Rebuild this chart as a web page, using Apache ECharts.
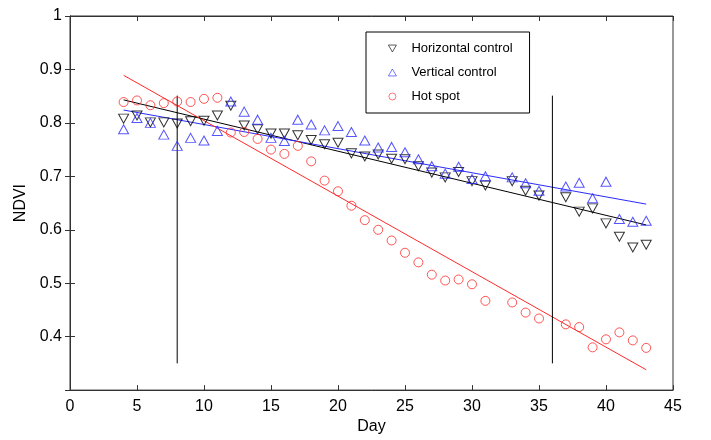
<!DOCTYPE html>
<html>
<head>
<meta charset="utf-8">
<script src="https://cdn.jsdelivr.net/npm/echarts@6/dist/echarts.min.js"></script>
<style>
    html, body { margin: 0; padding: 0; background: #fff; }
    #chart { width: 711px; height: 440px; }
</style>
</head>
<body>
<div id="chart"></div>
<script>
    // 数据
    var days = [4, 5, 6, 7, 8, 9, 10, 11, 12, 13, 14, 15, 16, 17, 18, 19, 20, 21, 22, 23, 24, 25,
        26, 27, 28, 29, 30, 31, 33, 34, 35, 37, 38, 39, 40, 41, 42, 43];
    var horizontal = [0.808, 0.814, 0.801, 0.801, 0.799, 0.803, 0.804, 0.814, 0.832, 0.795, 0.788, 0.780,
        0.780, 0.777, 0.768, 0.760, 0.763, 0.743, 0.737, 0.741, 0.733, 0.732,
        0.719, 0.707, 0.698, 0.708, 0.691, 0.683, 0.691, 0.673, 0.664,
        0.661, 0.634, 0.640, 0.612, 0.587, 0.567, 0.572];
    var vertical = [0.788, 0.809, 0.800, 0.778, 0.757, 0.772, 0.767, 0.785, 0.840, 0.821, 0.806, 0.772,
        0.766, 0.806, 0.797, 0.786, 0.794, 0.783, 0.767, 0.754, 0.755, 0.745,
        0.732, 0.719, 0.705, 0.718, 0.695, 0.700, 0.698, 0.687, 0.673,
        0.681, 0.688, 0.659, 0.690, 0.620, 0.615, 0.617];
    var hotDays = [4, 5, 6, 7, 8, 9, 10, 11, 12, 13, 14, 15, 16, 17, 18, 19, 20, 21, 22, 23, 24, 25,
        26, 27, 28, 29, 30, 31, 33, 34, 35, 37, 38, 39, 40, 41, 42, 43];
    var hotSpot = [0.839, 0.842, 0.833, 0.837, 0.840, 0.839, 0.845, 0.847, 0.782, 0.783, 0.770, 0.750,
        0.742, 0.757, 0.728, 0.692, 0.672, 0.645, 0.618, 0.600, 0.580, 0.557,
        0.539, 0.516, 0.505, 0.507, 0.498, 0.467, 0.464, 0.445, 0.434,
        0.423, 0.418, 0.380, 0.395, 0.408, 0.393, 0.379];
    // 拟合线端点
    var fitDays = [4, 43];
    var fitHorizontal = [0.843, 0.609];
    var fitVertical = [0.824, 0.648];
    var fitHot = [0.889, 0.338];
    // 竖线
    var markDays = [8, 36];
    var markRange = [0.35, 0.851];
    var yTicks = [0.4, 0.5, 0.6, 0.7, 0.8, 0.9, 1];

    function pairs(xs, ys) {
        return xs.map(function (x, i) { return [x, ys[i]]; });
    }

    var downTri = 'path://M0,0 L10,0 L5,8.66 Z';
    var upTri = 'path://M5,0 L10,8.66 L0,8.66 Z';
    var font = 'Liberation Sans, Arial, sans-serif';
    var blue = '#2a2aff', red = '#ff2a2a';

    var myChart = echarts.init(document.getElementById('chart'));
    var option = {
        animation: false,
        backgroundColor: '#fff',
        grid: {
            left: 70,
            right: 38,
            top: 16,
            bottom: 47,
            show: true,
            borderColor: '#333',
            borderWidth: 1
        },
        legend: {
            data: [
                { name: 'Horizontal control', itemStyle: { borderWidth: 0.8 } },
                { name: 'Vertical control', itemStyle: { borderWidth: 0.8 } },
                { name: 'Hot spot', itemStyle: { borderWidth: 0.8 } }
            ],
            orient: 'vertical',
            left: 366,
            top: 32,
            padding: [10, 17, 10, 22],
            itemGap: 11,
            itemWidth: 8,
            itemHeight: 7,
            borderColor: '#000',
            borderWidth: 1,
            backgroundColor: '#fff',
            textStyle: { fontFamily: font, fontSize: 13, color: '#000', padding: [0, 0, 0, 10] }
        },
        xAxis: [{
            type: 'value',
            min: 0,
            max: 45,
            interval: 5,
            name: 'Day',
            nameLocation: 'middle',
            nameGap: 27,
            nameTextStyle: { fontFamily: font, fontSize: 16, color: '#000' },
            axisLine: { lineStyle: { color: '#333' } },
            axisTick: { inside: true, length: 5, lineStyle: { color: '#333' } },
            axisLabel: { fontFamily: font, fontSize: 16, color: '#000', margin: 8 },
            splitLine: { show: false }
        }, {
            type: 'value',
            position: 'top',
            min: 0,
            max: 45,
            interval: 5,
            axisLine: { lineStyle: { color: '#333' } },
            axisTick: { inside: true, length: 5, lineStyle: { color: '#333' } },
            axisLabel: { show: false },
            splitLine: { show: false }
        }],
        yAxis: [{
            type: 'value',
            min: 0.3,
            max: 1,
            interval: 0.1,
            name: 'NDVI',
            nameLocation: 'middle',
            nameGap: 40,
            nameTextStyle: { fontFamily: font, fontSize: 16, color: '#000' },
            axisLine: { show: true, lineStyle: { color: '#333' } },
            axisTick: { inside: true, length: 5, lineStyle: { color: '#333' } },
            axisLabel: {
                fontFamily: font,
                fontSize: 16,
                color: '#000',
                margin: 8,
                formatter: function (v) {
                    var r = Math.round(v * 10) / 10;
                    return yTicks.indexOf(r) >= 0 ? String(r) : '';
                }
            },
            splitLine: { show: false }
        }, {
            type: 'value',
            position: 'right',
            min: 0.3,
            max: 1,
            interval: 0.1,
            axisLine: { show: true, lineStyle: { color: '#333' } },
            axisTick: { inside: true, length: 5, lineStyle: { color: '#333' } },
            axisLabel: { show: false },
            splitLine: { show: false }
        }],
        series: [{
            name: 'Horizontal control',
            type: 'scatter',
            symbol: downTri,
            symbolSize: [10, 9],
            data: pairs(days, horizontal),
            itemStyle: { color: 'rgba(0,0,0,0)', borderColor: '#000', borderWidth: 1 },
            z: 3
        }, {
            name: 'Vertical control',
            type: 'scatter',
            symbol: upTri,
            symbolSize: [10, 9],
            data: pairs(days, vertical),
            itemStyle: { color: 'rgba(0,0,0,0)', borderColor: blue, borderWidth: 1 },
            z: 3
        }, {
            name: 'Hot spot',
            type: 'scatter',
            symbol: 'circle',
            symbolSize: 9,
            data: pairs(hotDays, hotSpot),
            itemStyle: { color: 'rgba(0,0,0,0)', borderColor: red, borderWidth: 1 },
            z: 3
        }, {
            name: 'fitH',
            type: 'line',
            symbol: 'none',
            data: pairs(fitDays, fitHorizontal),
            lineStyle: { color: '#000', width: 1 },
            z: 2
        }, {
            name: 'fitV',
            type: 'line',
            symbol: 'none',
            data: pairs(fitDays, fitVertical),
            lineStyle: { color: blue, width: 1 },
            z: 2
        }, {
            name: 'fitHot',
            type: 'line',
            symbol: 'none',
            data: pairs(fitDays, fitHot),
            lineStyle: { color: red, width: 1 },
            z: 2
        }, {
            name: 'mark1',
            type: 'line',
            symbol: 'none',
            data: pairs([markDays[0], markDays[0]], markRange),
            lineStyle: { color: '#000', width: 1 },
            z: 2
        }, {
            name: 'mark2',
            type: 'line',
            symbol: 'none',
            data: pairs([markDays[1], markDays[1]], markRange),
            lineStyle: { color: '#000', width: 1 },
            z: 2
        }]
    };
    myChart.setOption(option);
</script>
</body>
</html>
